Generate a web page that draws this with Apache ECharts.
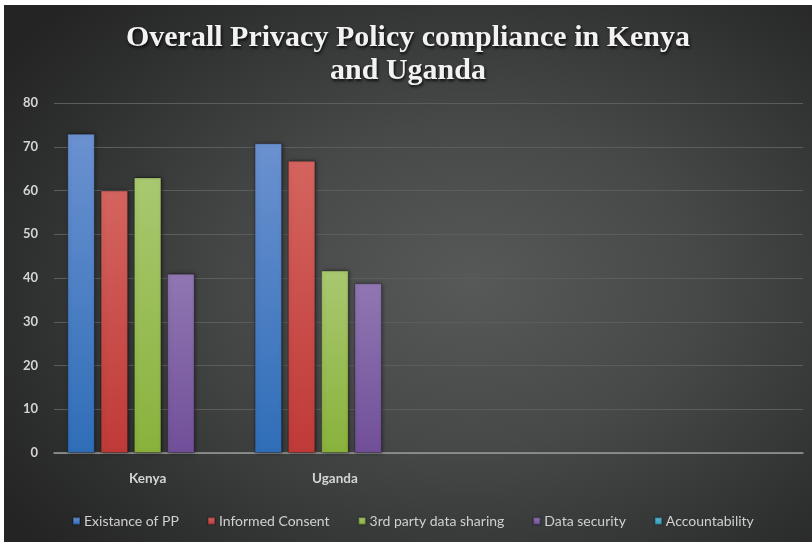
<!DOCTYPE html>
<html>
<head>
<meta charset="utf-8">
<script src="https://cdn.jsdelivr.net/npm/echarts@6/dist/echarts.min.js"></script>
<style>
  html, body {
    margin: 0;
    padding: 0;
    background: #ffffff;
  }

  #chart {
    position: absolute;
    left: 4px;
    top: 5px;
    width: 808px;
    height: 537px;
    background: radial-gradient(ellipse 70% 75% at 58% 52%, #575858 0%, #474848 40%, #2e2f2f 80%, #242424 100%);
  }
</style>
</head>
<body>
<div id="chart"></div>
<script>
  var titleText = "Overall Privacy Policy compliance in Kenya\nand Uganda";
  var countries = ["Kenya", "Uganda", "", " "];
  var seriesNames = ["Existance of PP", "Informed Consent", "3rd party data sharing", "Data security", "Accountability"];
  var existancePP = [73, 70.8];
  var informedConsent = [60, 66.8];
  var thirdParty = [63, 41.7];
  var dataSecurity = [41, 38.8];
  var accountability = [null, null];
  var yTicks = { min: 0, max: 80, interval: 10 };

  // top / bottom colours of each bar gradient
  var barColors = [
    ["#6b91d0", "#2f6eb8"],
    ["#d4645f", "#bf3a38"],
    ["#a9c870", "#89b23c"],
    ["#9077b2", "#714f99"],
    ["#56b6cf", "#3a9fbc"]
  ];
  var values = [existancePP, informedConsent, thirdParty, dataSecurity, accountability];

  var myChart = echarts.init(document.getElementById("chart"));

  var series = seriesNames.map(function (name, i) {
    return {
      name: name,
      type: "bar",
      data: values[i],
      barWidth: 27.5,
      barGap: "21%",
      itemStyle: {
        color: new echarts.graphic.LinearGradient(0, 0, 0, 1, [
          { offset: 0, color: barColors[i][0] },
          { offset: 1, color: barColors[i][1] }
        ]),
        borderColor: "rgba(0,0,0,0.25)",
        borderWidth: 1,
        shadowColor: "rgba(0,0,0,0.5)",
        shadowBlur: 4,
        shadowOffsetX: 1,
        shadowOffsetY: 0
      }
    };
  });

  var option = {
    backgroundColor: "transparent",
    animation: false,
    title: {
      text: titleText,
      left: "center",
      top: 12,
      textStyle: {
        fontFamily: "Liberation Serif",
        fontWeight: "bold",
        fontSize: 30,
        lineHeight: 33,
        color: "#f2f2f2",
        textShadowColor: "rgba(0,0,0,0.85)",
        textShadowBlur: 3,
        textShadowOffsetX: 1,
        textShadowOffsetY: 2
      }
    },
    legend: {
      bottom: 9,
      left: 63,
      itemWidth: 7,
      itemHeight: 7,
      itemGap: 28,
      icon: "rect",
      textStyle: {
        fontFamily: "Lato",
        fontSize: 14,
        color: "#d0d0d0",
        padding: [0, 0, 0, -1]
      },
      data: seriesNames
    },
    grid: {
      left: 50,
      right: 9,
      top: 98,
      bottom: 89
    },
    xAxis: {
      type: "category",
      data: countries,
      axisTick: { show: false },
      axisLine: { lineStyle: { color: "#9a9a9a", width: 1.5 } },
      axisLabel: {
        margin: 19,
        fontFamily: "Lato",
        fontWeight: "bold",
        fontSize: 13.5,
        color: "#d4d4d4"
      }
    },
    yAxis: {
      type: "value",
      min: yTicks.min,
      max: yTicks.max,
      interval: yTicks.interval,
      axisLine: { show: false },
      axisTick: { show: false },
      splitLine: { lineStyle: { color: "#5c5c5c", width: 1 } },
      axisLabel: {
        margin: 16,
        fontFamily: "Lato",
        fontWeight: "bold",
        fontSize: 13,
        color: "#d4d4d4"
      }
    },
    series: series
  };

  option && myChart.setOption(option);
</script>
</body>
</html>
